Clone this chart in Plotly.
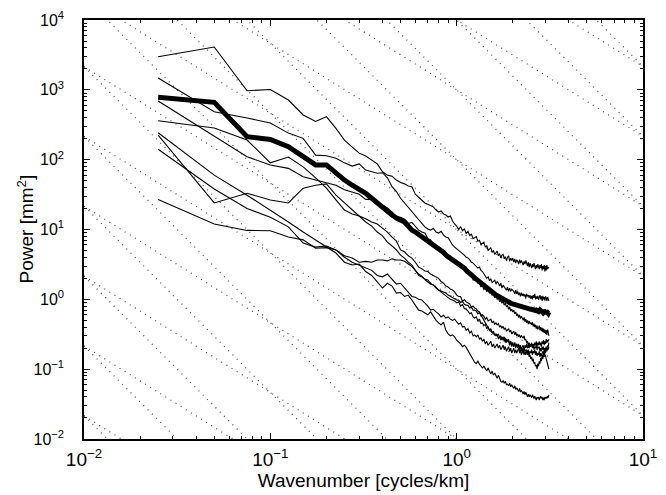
import plotly.graph_objects as go

# ---------------- data ----------------
wavenumber = [0.025, 0.05, 0.075, 0.1, 0.125, 0.15, 0.175, 0.2, 0.225, 0.25,
              0.275, 0.3, 0.325, 0.35, 0.375, 0.4, 0.425, 0.45, 0.475, 0.5,
              0.525, 0.55, 0.575, 0.6, 0.625, 0.65, 0.675, 0.7, 0.725, 0.75,
              0.775, 0.8, 0.825, 0.85, 0.875, 0.9, 0.925, 0.95, 0.975, 1.0,
              1.025, 1.05, 1.075, 1.1, 1.125, 1.15, 1.175, 1.2, 1.225, 1.25,
              1.275, 1.3, 1.325, 1.35, 1.375, 1.4, 1.425, 1.45, 1.475, 1.5,
              1.525, 1.55, 1.575, 1.6, 1.625, 1.65, 1.675, 1.7, 1.725, 1.75,
              1.775, 1.8, 1.825, 1.85, 1.875, 1.9, 1.925, 1.95, 1.975, 2.0,
              2.025, 2.05, 2.075, 2.1, 2.125, 2.15, 2.175, 2.2, 2.225, 2.25,
              2.275, 2.3, 2.325, 2.35, 2.375, 2.4, 2.425, 2.45, 2.475, 2.5,
              2.525, 2.55, 2.575, 2.6, 2.625, 2.65, 2.675, 2.7, 2.725, 2.75,
              2.775, 2.8, 2.825, 2.85, 2.875, 2.9, 2.925, 2.95, 2.975, 3.0,
              3.025, 3.05, 3.075, 3.1, 3.125]

power_a = [2980, 4100, 970, 1010, 714, 436, 352, 412, 281,
           191, 151, 124, 113, 99, 87, 67, 60, 58, 51, 47,
           45, 42, 41, 32, 29, 26.5, 24, 23, 21.7, 21,
           19, 17.8, 18.4, 16.7, 16.1, 15.1, 15.6, 13.2, 12, 11.2,
           10.0, 11.0, 9.6, 10.2, 8.8, 9.4, 8.2, 8.6, 7.4, 7.7,
           7.9, 6.8, 7.0, 6.1, 6.3, 6.6, 5.6, 5.9, 5.0, 5.2,
           5.5, 4.7, 5.0, 4.4, 4.7, 4.9, 4.2, 4.5, 3.9, 4.3,
           4.4, 3.8, 4.1, 3.6, 4.0, 4.2, 3.5, 3.9, 3.6, 3.9,
           3.4, 3.8, 3.3, 3.7, 3.5, 3.2, 3.7, 3.3, 3.6, 3.4,
           3.1, 3.5, 3.2, 3.6, 3.3, 3.0, 3.4, 2.9, 3.3, 3.1,
           2.8, 3.2, 2.9, 3.3, 2.9, 2.7, 3.1, 2.8, 3.2, 3.0,
           2.7, 3.1, 2.8, 3.2, 2.6, 3.0, 2.7, 3.1, 2.5, 3.0, 2.6, 3.1, 2.7, 2.9, 2.8]

power_b = [1480, 486, 395, 335, 240, 202, 116, 114, 105,
           90, 81, 87, 71, 67, 64, 65, 55, 41, 35, 28,
           24, 21, 17.8, 15.6, 13.7, 12, 10.9, 10.2, 9.8, 10.4,
           9.2, 8.9, 9.4, 8.3, 7.8, 7.6, 6.6, 6.0, 5.6, 5.3,
           5.1, 4.9, 4.6, 4.3, 4.0, 3.9, 3.7, 3.4, 3.3, 3.1,
           3.0, 2.8, 2.9, 2.6, 2.5, 2.3, 2.2, 2.0, 2.1, 1.85,
           1.95, 1.75, 1.8, 1.9, 1.65, 1.8, 1.7, 1.55, 1.7, 1.45,
           1.6, 1.5, 1.45, 1.35, 1.5, 1.3, 1.45, 1.3, 1.4, 1.35,
           1.3, 1.2, 1.35, 1.2, 1.3, 1.15, 1.25, 1.1, 1.25, 1.12,
           1.2, 1.1, 1.18, 1.05, 1.2, 1.1, 1.15, 1.05, 1.15, 1.02,
           1.12, 1.0, 1.15, 1.05, 1.2, 1.0, 1.1, 1.02, 1.12, 0.98,
           1.08, 1.15, 1.0, 1.1, 0.95, 1.12, 1.0, 1.08, 0.96, 1.1, 1.05, 0.95, 1.08, 0.98, 0.95]

power_c = [691, 216, 110, 84, 75, 57, 51, 46, 43,
           37, 34, 32, 27, 27, 24, 22.4, 20.3, 17.8, 15.2, 15.0,
           14.1, 12.2, 12.6, 11.2, 9.8, 9.2, 8.9, 7.4, 7.1, 6.0,
           5.6, 5.3, 4.9, 4.6, 4.3, 4.2, 4.0, 3.8, 3.65, 3.4,
           3.3, 2.9, 2.7, 2.8, 2.4, 2.5, 2.2, 2.3, 1.9, 1.9,
           2.0, 1.7, 1.75, 1.5, 1.6, 1.38, 1.45, 1.3, 1.35, 1.22,
           1.3, 1.15, 1.2, 1.05, 1.12, 1.0, 1.05, 0.92, 0.98, 0.88,
           0.95, 0.83, 0.88, 0.78, 0.82, 0.72, 0.78, 0.68, 0.72, 0.66,
           0.70, 0.62, 0.66, 0.58, 0.62, 0.55, 0.60, 0.53, 0.57, 0.54,
           0.50, 0.55, 0.48, 0.52, 0.46, 0.50, 0.44, 0.49, 0.45, 0.46,
           0.43, 0.47, 0.41, 0.45, 0.40, 0.43, 0.38, 0.42, 0.37, 0.39,
           0.42, 0.36, 0.40, 0.35, 0.39, 0.34, 0.38, 0.33, 0.37, 0.32, 0.36, 0.31, 0.37, 0.34, 0.30]

power_d = [361, 284, 191, 90, 109, 79, 55, 39, 26.5,
           19, 16.7, 15.6, 14.2, 12.8, 12.0, 10.5, 9.2, 7.8, 6.8, 5.1,
           4.8, 4.2, 3.9, 3.4, 2.9, 2.75, 2.55, 2.5, 2.3, 2.2,
           2.1, 2.0, 1.8, 1.7, 1.55, 1.5, 1.4, 1.36, 1.28, 1.15,
           1.1, 1.1, 0.93, 0.99, 0.92, 0.89, 0.86, 0.77, 0.8, 0.75,
           0.73, 0.68, 0.66, 0.60, 0.54, 0.51, 0.46, 0.43, 0.39, 0.36,
           0.35, 0.33, 0.32, 0.31, 0.30, 0.31, 0.27, 0.30, 0.26, 0.28,
           0.26, 0.29, 0.24, 0.27, 0.25, 0.27, 0.23, 0.25, 0.22, 0.24,
           0.21, 0.24, 0.21, 0.23, 0.20, 0.23, 0.20, 0.22, 0.19, 0.21,
           0.22, 0.19, 0.22, 0.20, 0.23, 0.20, 0.22, 0.20, 0.23, 0.21,
           0.24, 0.21, 0.23, 0.21, 0.24, 0.22, 0.25, 0.21, 0.24, 0.22,
           0.25, 0.22, 0.24, 0.21, 0.25, 0.23, 0.26, 0.22, 0.25, 0.23, 0.27, 0.24, 0.26, 0.25, 0.27]

power_e = [243, 60, 31, 19, 12.8, 9.2, 7.1, 5.6, 4.6,
           3.4, 3.1, 3.2, 2.5, 2.2, 1.77, 1.45, 1.7, 1.55, 1.23, 1.25,
           1.1, 1.15, 0.98, 0.83, 0.70, 0.68, 0.64, 0.60, 0.66, 0.56,
           0.50, 0.46, 0.43, 0.47, 0.36, 0.32, 0.30, 0.31, 0.29, 0.26,
           0.245, 0.23, 0.21, 0.22, 0.205, 0.185, 0.16, 0.15, 0.135, 0.125,
           0.12, 0.13, 0.118, 0.11, 0.104, 0.11, 0.10, 0.094, 0.104, 0.091,
           0.085, 0.094, 0.082, 0.088, 0.08, 0.074, 0.082, 0.072, 0.067, 0.065,
           0.069, 0.063, 0.067, 0.06, 0.061, 0.058, 0.063, 0.056, 0.06, 0.056,
           0.053, 0.058, 0.051, 0.054, 0.051, 0.048, 0.053, 0.047, 0.05, 0.047,
           0.044, 0.048, 0.043, 0.047, 0.043, 0.04, 0.044, 0.04, 0.043, 0.041,
           0.039, 0.043, 0.04, 0.038, 0.041, 0.039, 0.036, 0.04, 0.038, 0.04,
           0.036, 0.039, 0.041, 0.038, 0.04, 0.036, 0.039, 0.036, 0.04, 0.038, 0.04, 0.038, 0.041, 0.039, 0.043]

power_f = [225, 24, 33, 26.5, 24, 39, 43, 45, 31,
           24, 19, 15.6, 12.8, 11.2, 9.2, 8.1, 6.6, 5.8, 5.1, 4.3,
           3.9, 3.4, 3.1, 2.6, 2.2, 2.1, 1.9, 1.77, 1.65, 1.6,
           1.45, 1.36, 1.27, 1.18, 1.1, 1.07, 1.0, 0.98, 0.95, 0.89,
           0.92, 0.80, 0.84, 0.74, 0.72, 0.68, 0.62, 0.64, 0.56, 0.54,
           0.56, 0.49, 0.52, 0.45, 0.46, 0.42, 0.44, 0.38, 0.40, 0.36,
           0.38, 0.33, 0.35, 0.31, 0.32, 0.30, 0.32, 0.28, 0.30, 0.27,
           0.29, 0.25, 0.28, 0.24, 0.26, 0.25, 0.22, 0.25, 0.21, 0.24,
           0.21, 0.24, 0.20, 0.23, 0.21, 0.22, 0.19, 0.21, 0.18, 0.20,
           0.17, 0.20, 0.18, 0.19, 0.17, 0.16, 0.18, 0.15, 0.16, 0.14,
           0.15, 0.13, 0.14, 0.12, 0.125, 0.11, 0.115, 0.10, 0.12, 0.11,
           0.13, 0.12, 0.145, 0.13, 0.16, 0.14, 0.17, 0.15, 0.19, 0.17, 0.20, 0.19, 0.22, 0.21, 0.24]

power_g = [141, 38, 20, 15, 10.9, 6.4, 5.6, 5.8, 5.1,
           4.0, 3.4, 3.1, 2.8, 2.6, 2.2, 2.1, 2.3, 1.9, 1.65, 1.7,
           1.45, 1.23, 1.1, 1.07, 1.0, 0.98, 0.89, 0.80, 0.70, 0.72,
           0.66, 0.62, 0.56, 0.59, 0.54, 0.56, 0.52, 0.50, 0.52, 0.47,
           0.44, 0.46, 0.40, 0.41, 0.36, 0.38, 0.33, 0.35, 0.30, 0.31,
           0.29, 0.31, 0.27, 0.28, 0.25, 0.27, 0.23, 0.25, 0.22, 0.235,
           0.25, 0.21, 0.23, 0.20, 0.22, 0.23, 0.20, 0.22, 0.19, 0.21,
           0.22, 0.19, 0.21, 0.18, 0.20, 0.21, 0.18, 0.20, 0.17, 0.19,
           0.20, 0.17, 0.19, 0.17, 0.19, 0.20, 0.17, 0.19, 0.16, 0.18,
           0.19, 0.16, 0.18, 0.16, 0.19, 0.17, 0.19, 0.16, 0.18, 0.17,
           0.19, 0.16, 0.18, 0.17, 0.19, 0.16, 0.18, 0.155, 0.17, 0.16,
           0.18, 0.15, 0.17, 0.155, 0.165, 0.18, 0.17, 0.185, 0.16, 0.155, 0.14, 0.13, 0.12, 0.11, 0.10]

power_h = [27, 12, 9.7, 9.6, 7.8, 7.1, 5.4, 5.5, 5.1,
           4.2, 3.9, 3.4, 3.5, 3.4, 3.65, 3.65, 3.55, 3.8, 3.65, 3.65,
           3.5, 3.25, 2.95, 2.6, 2.3, 2.15, 1.95, 1.9, 1.7, 1.6,
           1.5, 1.36, 1.32, 1.28, 1.23, 1.15, 1.1, 1.04, 1.0, 0.98,
           0.98, 0.90, 0.93, 0.85, 0.83, 0.82, 0.75, 0.78, 0.70, 0.70,
           0.68, 0.62, 0.65, 0.58, 0.60, 0.57, 0.52, 0.55, 0.49, 0.50,
           0.52, 0.46, 0.49, 0.44, 0.46, 0.43, 0.45, 0.40, 0.42, 0.39,
           0.41, 0.37, 0.39, 0.35, 0.36, 0.38, 0.34, 0.36, 0.32, 0.34,
           0.35, 0.31, 0.34, 0.30, 0.32, 0.29, 0.31, 0.28, 0.30, 0.29,
           0.28, 0.30, 0.26, 0.27, 0.24, 0.25, 0.22, 0.24, 0.21, 0.22,
           0.23, 0.20, 0.22, 0.19, 0.21, 0.20, 0.22, 0.19, 0.21, 0.20,
           0.21, 0.18, 0.20, 0.18, 0.21, 0.19, 0.21, 0.18, 0.20, 0.19, 0.21, 0.18, 0.20, 0.19, 0.21]

power_mean = [782, 662, 213, 195, 153, 113, 84, 84, 64,
              51, 43, 38, 33, 28, 24, 20, 18.4, 16.1, 14.6, 13.7,
              12.8, 11.2, 9.8, 9.2, 8.5, 7.9, 7.5, 6.9, 6.5, 6.1,
              5.7, 5.3, 5.0, 4.7, 4.3, 4.1, 3.9, 3.7, 3.5, 3.4,
              3.2, 3.1, 2.9, 2.8, 2.6, 2.5, 2.36, 2.23, 2.13, 2.03,
              1.94, 1.85, 1.76, 1.68, 1.60, 1.55, 1.50, 1.45, 1.40, 1.35,
              1.31, 1.26, 1.22, 1.19, 1.16, 1.13, 1.10, 1.07, 1.04, 1.02,
              0.99, 0.97, 0.95, 0.93, 0.92, 0.91, 0.90, 0.88, 0.87, 0.86,
              0.85, 0.84, 0.83, 0.82, 0.81, 0.80, 0.79, 0.78, 0.78, 0.77,
              0.77, 0.76, 0.76, 0.75, 0.75, 0.74, 0.74, 0.73, 0.73, 0.72,
              0.72, 0.71, 0.71, 0.70, 0.71, 0.69, 0.70, 0.68, 0.70, 0.67,
              0.69, 0.66, 0.69, 0.66, 0.68, 0.65, 0.69, 0.64, 0.68, 0.63, 0.68, 0.64, 0.67, 0.63, 0.66]

thin_series = [power_a, power_b, power_c, power_d, power_e, power_f, power_g, power_h]

# reference power-law guide lines  P = 10^n * k^slope
guide_x = [0.01, 10.0]
guide_slopes = [-5.0 / 3.0, -8.0 / 3.0]
guide_decades = [list(range(-5, 6)), list(range(-7, 7))]

x_tick_vals = [0.01, 0.1, 1, 10]
x_tick_text = ["10<sup>\u22122</sup>", "10<sup>\u22121</sup>", "10<sup>0</sup>", "10<sup>1</sup>"]
y_tick_vals = [0.01, 0.1, 1, 10, 100, 1000, 10000]
y_tick_text = ["10<sup>\u22122</sup>", "10<sup>\u22121</sup>", "10<sup>0</sup>", "10<sup>1</sup>",
               "10<sup>2</sup>", "10<sup>3</sup>", "10<sup>4</sup>"]

# ---------------- figure ----------------
FONT = "Liberation Sans, Arial, Helvetica, sans-serif"
fig = go.Figure()

for slope, decades in zip(guide_slopes, guide_decades):
    for n in decades:
        fig.add_trace(go.Scatter(
            x=guide_x, y=[10.0 ** n * xv ** slope for xv in guide_x],
            mode="lines", line=dict(color="#4a4a4a", width=1.2, dash="1px,5px"),
            hoverinfo="skip", showlegend=False))

for s in thin_series:
    fig.add_trace(go.Scatter(x=wavenumber, y=s, mode="lines",
                             line=dict(color="black", width=1.1), showlegend=False))

fig.add_trace(go.Scatter(x=wavenumber, y=power_mean, mode="lines",
                         line=dict(color="black", width=5), showlegend=False))


def minor_vals(lo, hi):
    out = []
    for e in range(lo, hi):
        for m in range(2, 10):
            out.append(m * 10.0 ** e)
    return out


axis_common = dict(
    type="log", showgrid=False, zeroline=False, automargin=False,
    showline=True, linecolor="black", linewidth=1.5, mirror="allticks",
    ticks="inside", ticklen=6, tickwidth=1, tickcolor="black",
)

fig.update_layout(
    width=666, height=495,
    margin=dict(l=84, r=23, t=20, b=56),
    paper_bgcolor="white", plot_bgcolor="white",
    font=dict(family=FONT, size=16, color="black"),
    xaxis=dict(**axis_common, range=[-2, 1], tickmode="array",
               tickvals=x_tick_vals, ticktext=x_tick_text,
               tickfont=dict(family=FONT, size=19, color="black"),
               minor=dict(ticks="inside", ticklen=3, tickcolor="black",
                          tickmode="array", tickvals=minor_vals(-2, 1), showgrid=False),
               ticklabelstandoff=2,
               title=dict(text="Wavenumber [cycles/km]", standoff=2,
                          font=dict(family=FONT, size=19, color="black"))),
    yaxis=dict(**axis_common, range=[-2, 4], tickmode="array",
               tickvals=y_tick_vals, ticktext=y_tick_text,
               tickfont=dict(family=FONT, size=16, color="black"),
               minor=dict(ticks="inside", ticklen=3, tickcolor="black",
                          tickmode="array", tickvals=minor_vals(-2, 4), showgrid=False),
               ticklabelstandoff=15),
    annotations=[dict(text="Power [mm<sup>2</sup>]", textangle=-90,
                      xref="paper", yref="paper", x=(25 - 84) / 559, y=0.5,
                      xanchor="center", yanchor="middle", showarrow=False,
                      font=dict(family=FONT, size=19, color="black"))],
)

fig.write_html("out.html", config={"displayModeBar": False},
               post_script="document.body.style.margin='0px';document.body.style.overflow='hidden';")
